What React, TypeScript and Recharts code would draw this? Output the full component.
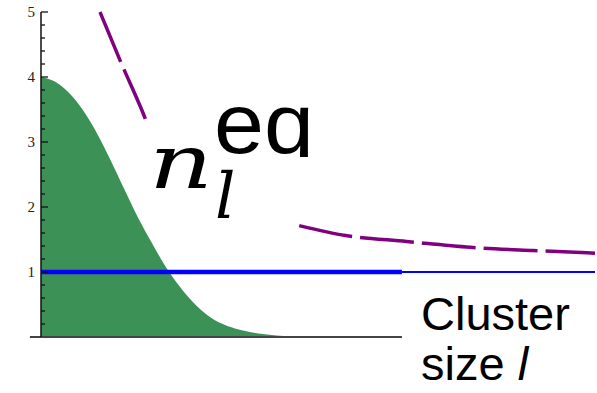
import React from "react";
import { Area, ComposedChart, Line, ReferenceLine, XAxis, YAxis } from "recharts";

// equilibrium size distribution (green hump)
const sizeX = [0, 0.5, 1, 1.5, 2, 2.5, 3, 3.5, 4, 4.5, 5, 5.5, 6, 6.5, 7, 7.5, 8, 8.5, 9, 10];
const nEq = [4.0, 3.93, 3.76, 3.5, 3.15, 2.73, 2.28, 1.84, 1.45, 1.08, 0.78, 0.53, 0.34, 0.21, 0.13, 0.08, 0.045, 0.025, 0.012, 0];

// decaying dashed curve
const curveX = [2.13, 2.85, 3.68, 3.86, 4.5, 5.5, 6.5, 7.5, 9.35, 11, 13.2, 15.5, 17.76, 20];
const curveY = [5.0, 4.26, 3.45, 3.26, 2.95, 2.5, 2.15, 1.92, 1.71, 1.56, 1.47, 1.38, 1.33, 1.29];

// level line at 1: thick part, then thin part
const thickX = [0, 13.03];
const thinX = [13.03, 20];
const level = 1;

const yTicks = [0.2, 0.4, 0.6, 0.8, 1, 1.2, 1.4, 1.6, 1.8, 2, 2.2, 2.4, 2.6, 2.8, 3, 3.2, 3.4, 3.6, 3.8, 4, 4.2, 4.4, 4.6, 4.8, 5];

const areaData = sizeX.map((x, i) => ({ x, y: nEq[i] }));
const curveData = curveX.map((x, i) => ({ x, y: curveY[i] }));
const thickData = thickX.map((x) => ({ x, y: level }));
const thinData = thinX.map((x) => ({ x, y: level }));

const YTick = (props: any) => {
  const { x, y, payload } = props;
  const major = Number.isInteger(payload.value);
  return (
    <g>
      <line x1={x} x2={x + (major ? 7 : 4)} y1={y} y2={y} stroke="#111" strokeWidth={1.3} />
      {major && (
        <text x={x - 6} y={y + 5} textAnchor="end" fontFamily="Liberation Serif" fontSize={15} fill="#222">
          {payload.value}
        </text>
      )}
    </g>
  );
};

export default function App() {
  return (
    <div style={{ position: "relative", width: 597, height: 393, background: "#fff" }}>
      <style>{"body{margin:0}"}</style>
      <ComposedChart width={597} height={393} margin={{ top: 12, right: 2, bottom: 56, left: 0 }}>
        <XAxis type="number" dataKey="x" domain={[0, 20]} hide />
        <YAxis
          type="number"
          domain={[0, 5]}
          ticks={yTicks}
          width={41}
          tickSize={0}
          tickMargin={0}
          tickLine={false}
          axisLine={{ stroke: "#111", strokeWidth: 1.5 }}
          tick={<YTick />}
          interval={0}
        />
        <Area
          data={areaData}
          dataKey="y"
          type="monotone"
          fill="#3c9256"
          fillOpacity={1}
          stroke="none"
          isAnimationActive={false}
        />
        <ReferenceLine
          segment={[{ x: -0.4, y: 0 }, { x: 13.03, y: 0 }]}
          stroke="#444"
          strokeWidth={2}
          ifOverflow="visible"
        />
        <Line data={thinData} dataKey="y" stroke="#0000ff" strokeWidth={2} dot={false} isAnimationActive={false} />
        <Line data={thickData} dataKey="y" stroke="#0000ff" strokeWidth={4.5} dot={false} isAnimationActive={false} />
        <Line
          data={curveData}
          dataKey="y"
          type="monotone"
          stroke="#800080"
          strokeWidth={3.5}
          strokeDasharray="54 8"
          dot={false}
          isAnimationActive={false}
        />
      </ComposedChart>
      <svg width={597} height={393} style={{ position: "absolute", left: 0, top: 0, pointerEvents: "none" }}>
        <defs>
          <clipPath id="eqClip">
            <rect x={200} y={90} width={130} height={67} />
          </clipPath>
        </defs>
        <rect x={147} y={125} width={148} height={101} fill="#fff" />
        <text x={149} y={188} fontFamily="DejaVu Serif" fontStyle="italic" fontSize={74} textLength={64} lengthAdjust="spacingAndGlyphs" fill="#000">
          n
        </text>
        <text x={215} y={218} fontFamily="DejaVu Serif" fontStyle="italic" fontSize={64} fill="#000">
          l
        </text>
        <text x={214} y={153} fontFamily="Liberation Sans" fontSize={86} textLength={100} lengthAdjust="spacingAndGlyphs" fill="#000" clipPath="url(#eqClip)">
          eq
        </text>
        <text x={421} y={330} fontFamily="Liberation Sans" fontSize={47} fill="#000">
          Cluster
        </text>
        <text x={421} y={380} fontFamily="Liberation Sans" fontSize={47} fill="#000">
          size <tspan fontStyle="italic">l</tspan>
        </text>
      </svg>
    </div>
  );
}
